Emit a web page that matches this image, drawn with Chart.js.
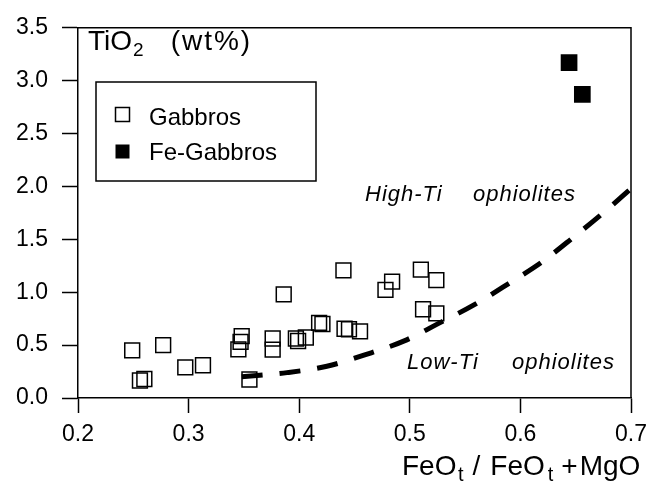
<!DOCTYPE html>
<html>
<head>
<meta charset="utf-8">
<script src="https://cdn.jsdelivr.net/npm/chart.js@4/dist/chart.umd.min.js"></script>
<style>
    html, body { margin: 0; padding: 0; background: #fff; }
    canvas { display: block; }
</style>
</head>
<body>
<canvas id="tioChart" width="665" height="484"></canvas>
<script>
// Gabbros (open squares)
const gabbroX = [0.249, 0.277, 0.256, 0.260, 0.297, 0.313, 0.345, 0.347, 0.348, 0.355,
                 0.376, 0.376, 0.386, 0.397, 0.399, 0.406, 0.418, 0.421, 0.441, 0.445,
                 0.455, 0.440, 0.478, 0.484, 0.510, 0.524, 0.512, 0.524];
const gabbroY = [0.45, 0.50, 0.165, 0.18, 0.29, 0.31, 0.46, 0.53, 0.585, 0.175,
                 0.563, 0.457, 0.98, 0.563, 0.539, 0.572, 0.71, 0.70, 0.655, 0.65,
                 0.63, 1.206, 1.022, 1.10, 1.213, 1.114, 0.839, 0.80];

// Fe-Gabbros (filled squares)
const feGabbroX = [0.644, 0.656];
const feGabbroY = [3.17, 2.87];

// High-Ti / Low-Ti dividing curve
const curveX = [0.348, 0.389, 0.425, 0.460, 0.495, 0.527, 0.558, 0.589, 0.620, 0.648, 0.676, 0.700];
const curveY = [0.20, 0.24, 0.30, 0.41, 0.54, 0.71, 0.88, 1.08, 1.29, 1.52, 1.76, 1.98];

// Axis ticks
const xTicks = [0.2, 0.3, 0.4, 0.5, 0.6, 0.7];
const yTicks = [0.0, 0.5, 1.0, 1.5, 2.0, 2.5, 3.0, 3.5];

const FONT = "'Liberation Sans', Arial, Helvetica, sans-serif";
const toPoints = (xs, ys) => xs.map((x, i) => ({ x: x, y: ys[i] }));

// draws a row of text pieces (used for the subscripts)
function drawRuns(ctx, x, y, runs) {
    runs.forEach(r => {
        ctx.font = (r.italic ? 'italic ' : '') + r.size + 'px ' + FONT;
        ctx.letterSpacing = (r.ls || 0) + 'px';
        ctx.fillText(r.t, x, y + (r.dy || 0));
        x += ctx.measureText(r.t).width + (r.gap || 0);
    });
    ctx.letterSpacing = '0px';
}

const annotations = {
    id: 'annotations',
    afterDraw(chart) {
        const ctx = chart.ctx;
        const a = chart.chartArea;
        ctx.save();
        ctx.strokeStyle = '#000';
        ctx.fillStyle = '#000';
        ctx.lineWidth = 1.5;
        ctx.textBaseline = 'alphabetic';
        ctx.textAlign = 'left';

        // top and right sides of the frame
        ctx.beginPath();
        ctx.moveTo(a.left, a.top);
        ctx.lineTo(a.right, a.top);
        ctx.lineTo(a.right, a.bottom);
        ctx.stroke();

        // y axis title inside the plot
        drawRuns(ctx, 88, 50, [
            { t: 'TiO', size: 28, gap: 1 },
            { t: '2', size: 19, dy: 6, gap: 27 },
            { t: '(wt%)', size: 28, ls: 2 }
        ]);

        // legend
        ctx.strokeRect(96, 82, 220, 99);
        ctx.strokeRect(115.5, 107.5, 14, 14);
        ctx.fillRect(115.5, 144.5, 14, 14);
        ctx.font = '24px ' + FONT;
        ctx.fillText('Gabbros', 149, 125);
        ctx.fillText('Fe-Gabbros', 149, 160);

        // field labels
        ctx.letterSpacing = '1px';
        ctx.font = 'italic 22px ' + FONT;
        ctx.fillText('High-Ti', 365, 201);
        ctx.fillText('ophiolites', 473, 201);
        ctx.fillText('Low-Ti', 407, 369);
        ctx.fillText('ophiolites', 512, 369);
        ctx.letterSpacing = '0px';

        // x axis title
        drawRuns(ctx, 402, 475, [
            { t: 'FeO', size: 28, gap: 1.5 },
            { t: 't', size: 20, dy: 6, gap: 9 },
            { t: '/', size: 28, gap: 10 },
            { t: 'FeO', size: 28, gap: 3 },
            { t: 't', size: 20, dy: 6, gap: 8 },
            { t: '+', size: 28, gap: 2 },
            { t: 'MgO', size: 28 }
        ]);
        ctx.restore();
    }
};

Chart.defaults.font.family = FONT;
Chart.defaults.color = '#000';

new Chart(document.getElementById('tioChart'), {
    type: 'scatter',
    data: {
        datasets: [
            {
                label: 'curve',
                data: toPoints(curveX, curveY),
                showLine: true,
                borderColor: '#000',
                borderWidth: 5,
                borderDash: [21, 17],
                cubicInterpolationMode: 'monotone',
                pointRadius: 0,
                order: 0
            },
            {
                label: 'Gabbros',
                data: toPoints(gabbroX, gabbroY),
                pointStyle: 'rect',
                pointRadius: 10.5,
                borderColor: '#000',
                borderWidth: 1.5,
                backgroundColor: 'rgba(0,0,0,0)',
                order: 1
            },
            {
                label: 'Fe-Gabbros',
                data: toPoints(feGabbroX, feGabbroY),
                pointStyle: 'rect',
                pointRadius: 11.8,
                borderColor: '#000',
                borderWidth: 0,
                backgroundColor: '#000',
                order: 1
            }
        ]
    },
    options: {
        responsive: false,
        animation: false,
        events: [],
        layout: { padding: { top: 16, right: 34, left: 0, bottom: 0 } },
        plugins: {
            legend: { display: false },
            tooltip: { enabled: false }
        },
        scales: {
            x: {
                type: 'linear',
                min: xTicks[0],
                max: xTicks[xTicks.length - 1],
                afterBuildTicks: scale => { scale.ticks = xTicks.map(v => ({ value: v })); },
                afterFit: scale => { scale.height = 86; },
                ticks: {
                    callback: v => v.toFixed(1),
                    font: { size: 23 },
                    color: '#000',
                    padding: 8,
                    maxRotation: 0
                },
                grid: {
                    drawOnChartArea: false,
                    drawTicks: true,
                    tickLength: 15,
                    tickWidth: 1.5,
                    tickColor: '#000'
                },
                border: { display: true, color: '#000', width: 1.5 }
            },
            y: {
                min: yTicks[0],
                max: yTicks[yTicks.length - 1],
                afterBuildTicks: scale => { scale.ticks = yTicks.map(v => ({ value: v })); },
                afterFit: scale => { scale.width = 78; },
                ticks: {
                    callback: v => v.toFixed(1),
                    font: { size: 23 },
                    color: '#000',
                    padding: 14
                },
                grid: {
                    drawOnChartArea: false,
                    drawTicks: true,
                    tickLength: 16,
                    tickWidth: 1.5,
                    tickColor: '#000'
                },
                border: { display: true, color: '#000', width: 1.5 }
            }
        }
    },
    plugins: [annotations]
});
</script>
</body>
</html>
